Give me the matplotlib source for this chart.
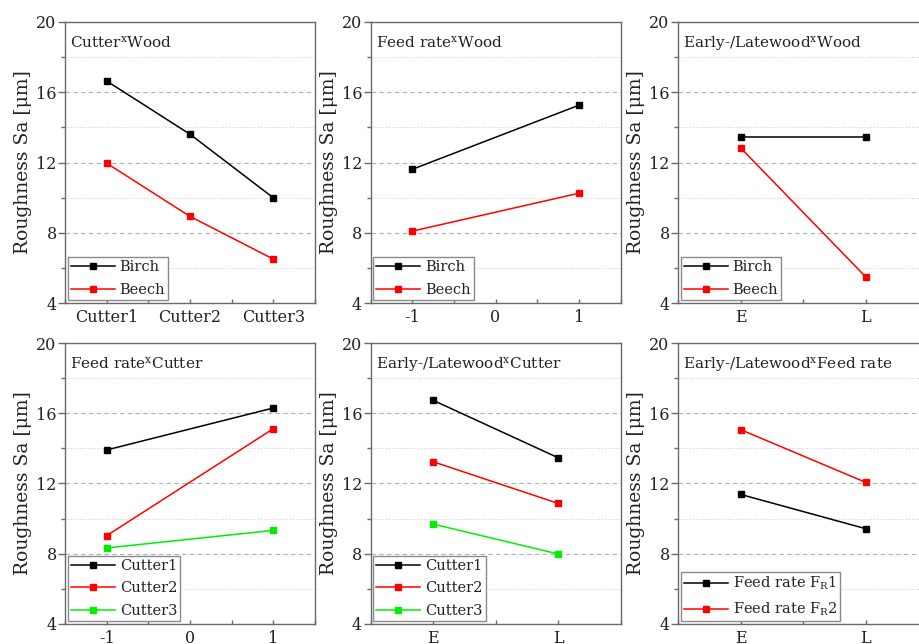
import matplotlib
matplotlib.use("Agg")
import matplotlib.pyplot as plt
from matplotlib.ticker import MultipleLocator

plt.rcParams["font.family"] = ["DejaVu Serif"]
plt.rcParams["mathtext.fontset"] = "dejavuserif"
plt.rcParams["axes.unicode_minus"] = False

# interaction plots of mean surface roughness
cutters = ["Cutter1", "Cutter2", "Cutter3"]
feed_levels = [-1, 1]
wood_zones = ["E", "L"]

cw_birch = [16.64, 13.61, 9.99]
cw_beech = [11.96, 8.93, 6.50]

fw_birch = [11.61, 15.26]
fw_beech = [8.09, 10.25]

ew_birch = [13.44, 13.44]
ew_beech = [12.84, 5.50]

fc_cutter1 = [13.91, 16.30]
fc_cutter2 = [9.03, 15.12]
fc_cutter3 = [8.33, 9.33]

ec_cutter1 = [16.74, 13.47]
ec_cutter2 = [13.24, 10.87]
ec_cutter3 = [9.69, 7.99]

ef_fr1 = [11.38, 9.43]
ef_fr2 = [15.07, 12.07]

SPINE = "#6a6a6a"
COL_LEFT = [65 / 919, 370.5 / 919, 678 / 919]
ROW_BOTTOM = [1 - 303 / 644, 1 - 624 / 644]
AX_W = 250 / 919
AX_H = 281 / 644


def style_axis(ax, title):
    ax.set_ylim(4, 20)
    ax.yaxis.set_major_locator(MultipleLocator(4))
    ax.yaxis.set_minor_locator(MultipleLocator(2))
    ax.grid(axis="y", which="major", color="#b0b0b0", linestyle=(0, (4, 3)), linewidth=0.8)
    ax.grid(axis="y", which="minor", color="#c8c8c8", linestyle=(0, (1, 2)), linewidth=0.7)
    ax.set_axisbelow(True)
    for sp in ax.spines.values():
        sp.set_color(SPINE)
        sp.set_linewidth(1.0)
    ax.tick_params(axis="y", which="major", direction="out", length=5, width=1,
                   color=SPINE, labelsize=11.5, labelcolor="#222222", pad=1)
    ax.tick_params(axis="y", which="minor", direction="out", length=3, width=1, color=SPINE)
    ax.tick_params(axis="x", which="both", direction="in", length=3, width=1,
                   color=SPINE, labelsize=11.5, labelcolor="#222222", pad=4)
    ax.set_ylabel("Roughness Sa [μm]", fontsize=13.5, color="#222222", labelpad=3)
    ax.text(0.02, 0.955, title, transform=ax.transAxes, ha="left", va="top",
            fontsize=11, color="#222222")


def plot_series(ax, x, ys, colors, labels):
    for y, c, lab in zip(ys, colors, labels):
        ax.plot(x, y, color=c, linewidth=1.1, marker="s", markersize=3.8,
                markerfacecolor=c, markeredgecolor=c, label=lab)
    leg = ax.legend(loc="lower left", bbox_to_anchor=(0.0, 0.0), borderaxespad=0.2,
                    fontsize=10.5, frameon=True, fancybox=False, framealpha=1,
                    edgecolor="#8a8a8a", handlelength=3.0, handletextpad=0.35,
                    borderpad=0.2, labelspacing=0.6)
    leg.get_frame().set_linewidth(1.0)
    for t in leg.get_texts():
        t.set_color("#222222")


fig = plt.figure(figsize=(9.19, 6.44), dpi=100)

axes = [[fig.add_axes([COL_LEFT[c], ROW_BOTTOM[r], AX_W, AX_H]) for c in range(3)]
        for r in range(2)]

wood_colors = ["black", "red"]
wood_labels = ["Birch", "Beech"]
cutter_colors = ["black", "red", "#00ee00"]

# Cutter x Wood
ax = axes[0][0]
pos = [1, 2, 3]
plot_series(ax, pos, [cw_birch, cw_beech], wood_colors, wood_labels)
ax.set_xlim(0.5, 3.5)
ax.set_xticks(pos)
ax.set_xticklabels(cutters)
ax.xaxis.set_minor_locator(MultipleLocator(0.5))
style_axis(ax, "Cutter$^{\\mathrm{x}}$Wood")

# Feed rate x Wood
ax = axes[0][1]
plot_series(ax, feed_levels, [fw_birch, fw_beech], wood_colors, wood_labels)
ax.set_xlim(-1.5, 1.5)
ax.set_xticks([-1, 0, 1])
ax.xaxis.set_minor_locator(MultipleLocator(0.5))
style_axis(ax, "Feed rate$^{\\mathrm{x}}$Wood")

# Early-/Latewood x Wood
ax = axes[0][2]
zpos = [1, 2]
plot_series(ax, zpos, [ew_birch, ew_beech], wood_colors, wood_labels)
ax.set_xlim(0.5, 2.5)
ax.set_xticks(zpos)
ax.set_xticklabels(wood_zones)
ax.xaxis.set_minor_locator(MultipleLocator(0.5))
style_axis(ax, "Early-/Latewood$^{\\mathrm{x}}$Wood")

# Feed rate x Cutter
ax = axes[1][0]
plot_series(ax, feed_levels, [fc_cutter1, fc_cutter2, fc_cutter3], cutter_colors, cutters)
ax.set_xlim(-1.5, 1.5)
ax.set_xticks([-1, 0, 1])
ax.xaxis.set_minor_locator(MultipleLocator(0.5))
style_axis(ax, "Feed rate$^{\\mathrm{x}}$Cutter")

# Early-/Latewood x Cutter
ax = axes[1][1]
plot_series(ax, zpos, [ec_cutter1, ec_cutter2, ec_cutter3], cutter_colors, cutters)
ax.set_xlim(0.5, 2.5)
ax.set_xticks(zpos)
ax.set_xticklabels(wood_zones)
ax.xaxis.set_minor_locator(MultipleLocator(0.5))
style_axis(ax, "Early-/Latewood$^{\\mathrm{x}}$Cutter")

# Early-/Latewood x Feed rate
ax = axes[1][2]
plot_series(ax, zpos, [ef_fr1, ef_fr2], wood_colors,
            ["Feed rate F$_{\\mathrm{R}}$1", "Feed rate F$_{\\mathrm{R}}$2"])
ax.set_xlim(0.5, 2.5)
ax.set_xticks(zpos)
ax.set_xticklabels(wood_zones)
ax.xaxis.set_minor_locator(MultipleLocator(0.5))
style_axis(ax, "Early-/Latewood$^{\\mathrm{x}}$Feed rate")

fig.savefig("out.png", dpi=100, facecolor="white")
